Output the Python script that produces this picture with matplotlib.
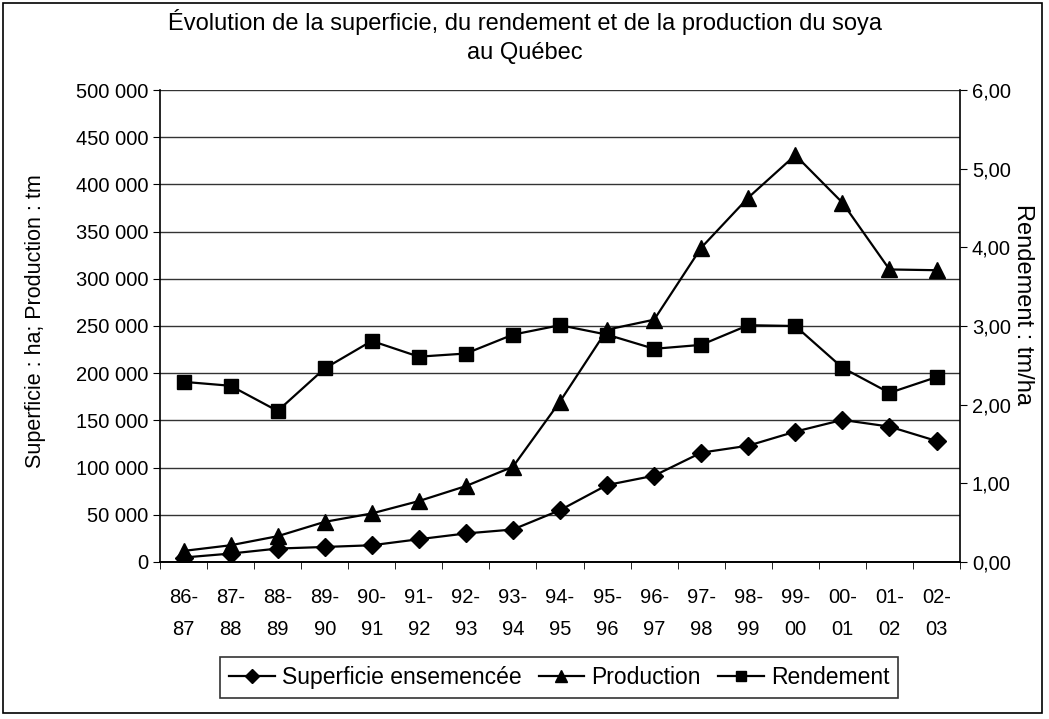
import matplotlib.pyplot as plt
import matplotlib.ticker as mticker
from matplotlib.lines import Line2D
from matplotlib.patches import Rectangle
import numpy as np

plt.rcParams['font.family'] = ['Liberation Sans', 'DejaVu Sans']

campagnes = ["86-\n87", "87-\n88", "88-\n89", "89-\n90", "90-\n91", "91-\n92", "92-\n93",
             "93-\n94", "94-\n95", "95-\n96", "96-\n97", "97-\n98", "98-\n99", "99-\n00",
             "00-\n01", "01-\n02", "02-\n03"]
superficie = [4700, 8900, 14200, 15900, 17700, 24100, 30200, 34400, 54900, 81500,
              91400, 115800, 123200, 138100, 150500, 143400, 128200]
production = [11700, 17700, 27300, 42500, 51400, 64500, 80400, 100900, 170000, 246100,
              256700, 332900, 386000, 431000, 380700, 309900, 309100]
rendement = [2.29, 2.24, 1.92, 2.46, 2.81, 2.61, 2.65, 2.89, 3.01, 2.89,
             2.71, 2.76, 3.01, 3.00, 2.47, 2.15, 2.35]

fig = plt.figure(figsize=(10.49, 7.19), dpi=100)
ax = fig.add_axes([0.1525, 0.2184, 0.7627, 0.6564])
x = np.arange(len(campagnes))

ax.plot(x, superficie, color="black", lw=1.6, marker="D", ms=9, label="Superficie ensemencée", zorder=3)
ax.plot(x, production, color="black", lw=1.6, marker="^", ms=11, label="Production", zorder=3)

ax2 = ax.twinx()
ax2.plot(x, rendement, color="black", lw=1.6, marker="s", ms=10, label="Rendement", zorder=3)

ax.set_xlim(-0.5, len(campagnes) - 0.5)
ax.set_ylim(0, 500000)
ax2.set_ylim(0, 6)
ax.yaxis.set_major_locator(mticker.MultipleLocator(50000))
ax2.yaxis.set_major_locator(mticker.MultipleLocator(1))
ax.yaxis.set_major_formatter(mticker.FuncFormatter(lambda v, p: f"{int(v):,}".replace(",", " ")))
ax2.yaxis.set_major_formatter(mticker.FuncFormatter(lambda v, p: f"{v:.2f}".replace(".", ",")))

ax.set_xticks(x)
ax.set_xticklabels(campagnes, fontsize=14.5, linespacing=1.85)
ax.set_xticks(np.arange(-0.5, len(campagnes)), minor=True)
ax.tick_params(axis="x", which="major", length=0, pad=19)
ax.tick_params(axis="x", which="minor", length=5, direction="out", color="black")
ax.tick_params(axis="y", labelsize=14.5, length=5, color="black")
ax2.tick_params(axis="y", labelsize=14.5, length=5, color="black")

ax.grid(axis="y", color="#333333", lw=1.0)
ax.set_axisbelow(True)
for sp in ["top", "right"]:
    ax.spines[sp].set_visible(False)
    ax2.spines[sp].set_visible(sp == "right")
ax2.spines["left"].set_visible(False)
ax2.spines["top"].set_visible(False)
for a in (ax, ax2):
    for sp in a.spines.values():
        sp.set_color("black")
        sp.set_linewidth(1.2)

ax.set_ylabel("Superficie : ha; Production : tm", fontsize=15.5)
ax.yaxis.set_label_coords(-0.143, 0.51)
ax2.set_ylabel("Rendement : tm/ha", fontsize=17, rotation=-90)
ax2.yaxis.set_label_coords(1.092, 0.545)

fig.text(0.5, 0.988, "Évolution de la superficie, du rendement et de la production du soya\nau Québec",
         ha="center", va="top", fontsize=17, linespacing=1.45)

handles = [Line2D([], [], color="black", lw=1.6, marker="D", ms=7),
           Line2D([], [], color="black", lw=1.6, marker="^", ms=8),
           Line2D([], [], color="black", lw=1.6, marker="s", ms=7)]
leg = fig.legend(handles, ["Superficie ensemencée", "Production", "Rendement"],
                 loc="center", bbox_to_anchor=(0.533, 0.0577), ncol=3, fontsize=16.5,
                 frameon=True, fancybox=False, edgecolor="black", handlelength=2.0,
                 handletextpad=0.3, columnspacing=0.75, borderpad=0.4)
leg.get_frame().set_linewidth(1.2)

fig.patches.append(Rectangle((0.003, 0.008), 0.99, 0.988, transform=fig.transFigure,
                             fill=False, edgecolor="black", lw=1.2))

fig.savefig("out.png", dpi=100)
